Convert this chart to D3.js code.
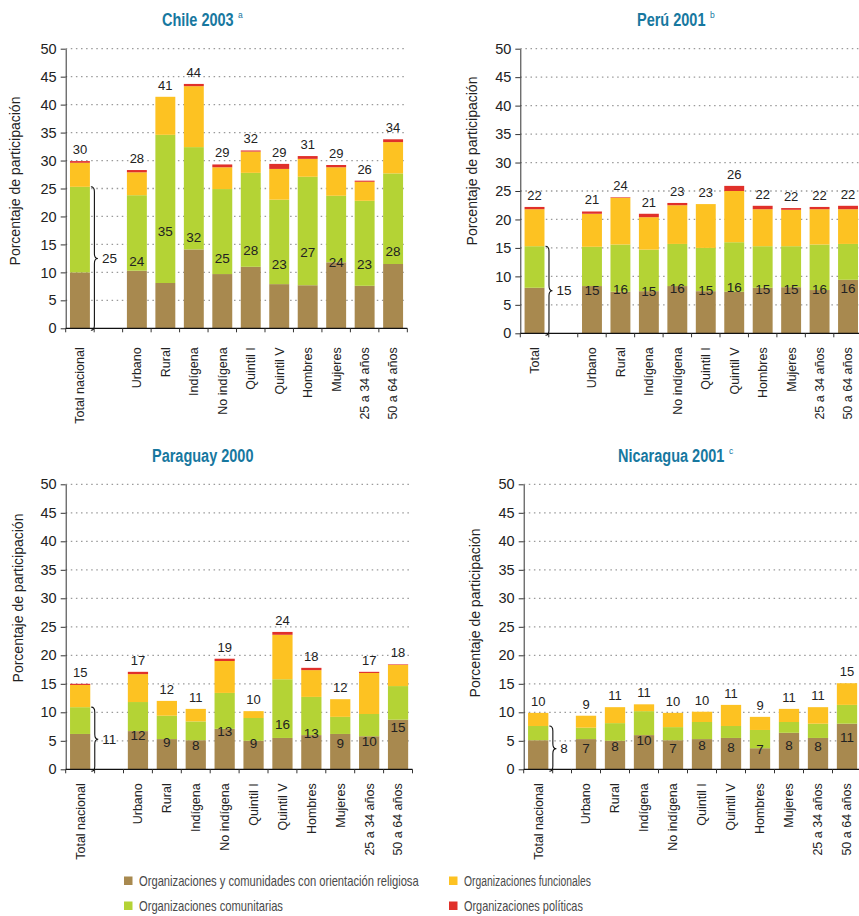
<!DOCTYPE html>
<html>
<head>
<meta charset="utf-8">
<script src="https://cdn.jsdelivr.net/npm/d3@7"></script>
<style>
  body { margin: 0; background: #fff; }
  svg text { font-family: "Liberation Sans", Arial, sans-serif; }
</style>
</head>
<body>
<div id="chart"></div>
<script>
// categories
var cats = ["Total nacional", "Urbano", "Rural", "Indígena", "No indígena", "Quintil I",
  "Quintil V", "Hombres", "Mujeres", "25 a 34 años", "50 a 64 años"];
var catsPeru = ["Total", "Urbano", "Rural", "Indígena", "No indígena", "Quintil I",
  "Quintil V", "Hombres", "Mujeres", "25 a 34 años", "50 a 64 años"];

// series values (percent)
var chileRel = [10.0, 10.3, 8.1, 14.1, 9.7, 11.0, 7.9, 7.7, 11.8, 7.6, 11.5];
var chileCom = [15.3, 13.5, 26.5, 18.3, 15.2, 16.8, 15.1, 19.4, 11.9, 15.2, 16.2];
var chileFun = [4.3, 4.1, 6.8, 10.9, 3.9, 3.8, 5.5, 3.2, 5.1, 3.4, 5.6];
var chilePol = [0.3, 0.4, 0.0, 0.4, 0.5, 0.2, 0.9, 0.5, 0.4, 0.2, 0.5];

var peruRel = [8.0, 8.3, 7.3, 7.4, 8.3, 7.4, 7.3, 8.0, 8.1, 7.6, 9.4];
var peruCom = [7.3, 6.9, 8.3, 7.3, 7.4, 7.6, 8.7, 7.3, 7.2, 8.0, 6.3];
var peruFun = [6.5, 5.8, 8.2, 5.7, 6.8, 7.7, 9.0, 6.5, 6.4, 6.2, 6.1];
var peruPol = [0.4, 0.4, 0.1, 0.6, 0.4, 0.0, 0.9, 0.6, 0.3, 0.4, 0.6];

var parRel = [6.2, 6.7, 5.3, 5.1, 7.1, 5.0, 5.5, 6.0, 6.2, 5.8, 8.7];
var parCom = [4.7, 5.1, 4.1, 3.3, 6.3, 4.0, 10.3, 6.7, 3.0, 3.9, 5.9];
var parFun = [3.9, 4.9, 2.6, 2.2, 5.6, 1.2, 7.8, 4.7, 3.1, 7.2, 3.7];
var parPol = [0.2, 0.4, 0.0, 0.0, 0.4, 0.0, 0.5, 0.4, 0.0, 0.2, 0.1];

var nicRel = [5.1, 5.3, 5.0, 6.0, 5.1, 5.3, 5.5, 3.7, 6.4, 5.5, 8.0];
var nicCom = [2.5, 2.0, 3.1, 4.2, 2.3, 3.0, 2.1, 3.2, 1.9, 2.5, 3.3];
var nicFun = [2.3, 2.1, 2.8, 1.2, 2.5, 1.8, 3.7, 2.3, 2.3, 2.9, 3.8];
var nicPol = [0, 0, 0, 0, 0, 0, 0, 0, 0, 0, 0];

var yTicks = [0, 5, 10, 15, 20, 25, 30, 35, 40, 45, 50];
var seriesNames = ["Organizaciones y comunidades con orientación religiosa",
  "Organizaciones comunitarias", "Organizaciones funcionales", "Organizaciones políticas"];
var seriesColors = ["#a8894f", "#b4d335", "#fdc222", "#e0302a"];
var keys = ["rel", "com", "fun", "pol"];

var W = 859, H = 916;
var svg = d3.select("#chart").append("svg").attr("width", W).attr("height", H);

// panel layouts
var panels = [
  { title: "Chile 2003", sup: "a", cats: cats, rel: chileRel, com: chileCom, fun: chileFun, pol: chilePol,
    x0: 65.7, step: 28.47, gap: 28.47, yBase: 328.3, yTop: 48.7, labOff: 19,
    tx: 162, tw: 72, ty: 26, ylx: 15, yly: 181 },
  { title: "Perú 2001", sup: "b", cats: catsPeru, rel: peruRel, com: peruCom, fun: peruFun, pol: peruPol,
    x0: 520.3, step: 28.45, gap: 29, yBase: 333.3, yTop: 48.7, labOff: 14,
    tx: 637, tw: 69, ty: 26, ylx: 472, yly: 161 },
  { title: "Paraguay 2000", sup: "", cats: cats, rel: parRel, com: parCom, fun: parFun, pol: parPol,
    x0: 65.7, step: 28.9, gap: 28.9, yBase: 769.3, yTop: 484.3, labOff: 14,
    tx: 152, tw: 103, ty: 462, ylx: 18, yly: 598 },
  { title: "Nicaragua 2001", sup: "c", cats: cats, rel: nicRel, com: nicCom, fun: nicFun, pol: nicPol,
    x0: 523.7, step: 29, gap: 18.8, yBase: 769.3, yTop: 484.3, labOff: 14,
    tx: 618, tw: 107, ty: 462, ylx: 475, yly: 613 }
];

panels.forEach(drawPanel);

function drawPanel(p) {
  var g = svg.append("g");
  var n = p.cats.length;
  var y = d3.scaleLinear().domain([0, 50]).range([p.yBase, p.yTop]);
  var x = d3.scaleBand().domain(p.cats).range([p.x0, p.x0 + n * p.step])
    .paddingInner(0.3).paddingOuter(0.15);
  var bw = x.bandwidth();
  var cx = function (c, i) { return x(c) + bw / 2 + (i > 0 ? p.gap : 0); };
  var xEnd = p.x0 + n * p.step + p.gap;

  // dotted grid
  g.selectAll("line.grid").data(yTicks.filter(function (t) { return t > 0; }))
    .enter().append("line")
    .attr("x1", p.x0).attr("x2", xEnd)
    .attr("y1", function (d) { return y(d); }).attr("y2", function (d) { return y(d); })
    .attr("stroke", "#9a9a9a").attr("stroke-width", 1.3)
    .attr("stroke-dasharray", "1.5,3.6");

  // title: a tall narrow look, stretched vertically
  g.append("text").attr("transform", "translate(" + p.tx + "," + p.ty + ") scale(1,1.28)")
    .style("font-weight", "bold").style("font-size", "14.5px").attr("fill", "#17789f")
    .text(p.title);
  if (p.sup) g.append("text").attr("x", p.tx + p.tw + 4).attr("y", p.ty - 8)
    .style("font-size", "8.5px").attr("fill", "#17789f").text(p.sup);

  // stacked bars
  var rows = p.cats.map(function (c, i) {
    return { cat: c, i: i, rel: p.rel[i], com: p.com[i], fun: p.fun[i], pol: p.pol[i] };
  });
  var stack = d3.stack().keys(keys)(rows);
  g.selectAll("g.layer").data(stack).enter().append("g")
    .attr("fill", function (d, k) { return seriesColors[k]; })
    .selectAll("rect").data(function (d) { return d; }).enter().append("rect")
    .attr("x", function (d) { return cx(d.data.cat, d.data.i) - bw / 2; })
    .attr("width", bw)
    .attr("y", function (d) { return y(d[1]); })
    .attr("height", function (d) { return y(d[0]) - y(d[1]); });

  // y axis
  var ya = g.append("g").attr("transform", "translate(" + p.x0 + ",0)")
    .call(d3.axisLeft(y).tickValues(yTicks).tickSize(5).tickSizeOuter(0).tickPadding(4));
  ya.selectAll("text").style("font-size", "14.5px").attr("fill", "#222");
  ya.selectAll("line, path").attr("stroke", "#333");

  // x axis line and ticks at band edges
  g.append("line").attr("x1", p.x0).attr("x2", xEnd).attr("y1", p.yBase).attr("y2", p.yBase)
    .attr("stroke", "#111").attr("stroke-width", 1.2);
  var edges = [p.x0];
  p.cats.forEach(function (c, i) { edges.push(cx(c, i) + p.step / 2); });
  edges.push(p.x0 + p.step + p.gap);
  g.selectAll("line.xt").data(edges).enter().append("line")
    .attr("x1", function (d) { return d; }).attr("x2", function (d) { return d; })
    .attr("y1", p.yBase).attr("y2", p.yBase + 4)
    .attr("stroke", "#333");

  // category labels
  g.selectAll("text.cat").data(p.cats).enter().append("text")
    .attr("transform", function (d, i) {
      return "translate(" + cx(d, i) + "," + (p.yBase + p.labOff) + ") rotate(-90)";
    })
    .attr("text-anchor", "end").attr("dy", "0.35em")
    .style("font-size", "12.5px").attr("fill", "#222")
    .text(function (d) { return d; });

  // totals above bars
  g.selectAll("text.tot").data(rows).enter().append("text")
    .attr("x", function (d) { return cx(d.cat, d.i); })
    .attr("y", function (d) { return y(d.rel + d.com + d.fun + d.pol) - 7; })
    .attr("text-anchor", "middle").style("font-size", "13px").attr("fill", "#222")
    .text(function (d) { return Math.round(d.rel + d.com + d.fun + d.pol); });

  // religious + community value inside bars
  g.selectAll("text.inner").data(rows.slice(1)).enter().append("text")
    .attr("x", function (d) { return cx(d.cat, d.i); })
    .attr("y", function (d) { return y((d.rel + d.com) / 2); })
    .attr("dy", "0.35em")
    .attr("text-anchor", "middle").style("font-size", "13.5px").attr("fill", "#222")
    .text(function (d) { return Math.round(d.rel + d.com); });

  // brace for the total bar
  var r0 = rows[0];
  var bx = cx(r0.cat, 0) + bw / 2 + 1;
  var y1 = y(r0.rel + r0.com), y2 = p.yBase + 2, ym = (y1 + y2) / 2, w = 3.5, rr = 5;
  var path = d3.path();
  path.moveTo(bx, y1);
  path.quadraticCurveTo(bx + w, y1, bx + w, y1 + rr);
  path.lineTo(bx + w, ym - rr);
  path.quadraticCurveTo(bx + w, ym, bx + 2 * w, ym);
  path.quadraticCurveTo(bx + w, ym, bx + w, ym + rr);
  path.lineTo(bx + w, y2 - rr);
  path.quadraticCurveTo(bx + w, y2, bx, y2);
  g.append("path").attr("d", path.toString()).attr("fill", "none")
    .attr("stroke", "#111").attr("stroke-width", 1.1);
  g.append("text").attr("x", bx + 2 * w + 4).attr("y", ym).attr("dy", "0.35em")
    .style("font-size", "13.5px").attr("fill", "#222")
    .text(Math.round(r0.rel + r0.com));

  // y axis title
  g.append("text").attr("transform", "translate(" + p.ylx + "," + p.yly + ") rotate(-90)")
    .attr("text-anchor", "middle").attr("dy", "0.35em")
    .style("font-size", "14px").attr("fill", "#222")
    .text("Porcentaje de participación");
}

// legend
var legendPos = [[124, 881], [124, 906], [449, 881], [449, 906]];
var legendLen = [280, 144, 127, 119];
var lg = svg.append("g").selectAll("g").data(seriesNames).enter().append("g")
  .attr("transform", function (d, i) { return "translate(" + legendPos[i][0] + "," + legendPos[i][1] + ")"; });
lg.append("rect").attr("x", 0).attr("y", -4.5).attr("width", 8.5).attr("height", 8.5)
  .attr("fill", function (d, i) { return seriesColors[i]; });
// narrow face: shrink the font to the wanted width, then stretch it back up
lg.append("text").attr("dy", "0.36em")
  .style("font-size", "15px").attr("fill", "#4a4a4a")
  .text(function (d) { return d; })
  .each(function (d, i) {
    var len = this.getComputedTextLength();
    var fs = 15 * legendLen[i] / len;
    d3.select(this).style("font-size", fs + "px")
      .attr("transform", "translate(15,0) scale(1," + (15 / fs) + ")");
  });
</script>
</body>
</html>
